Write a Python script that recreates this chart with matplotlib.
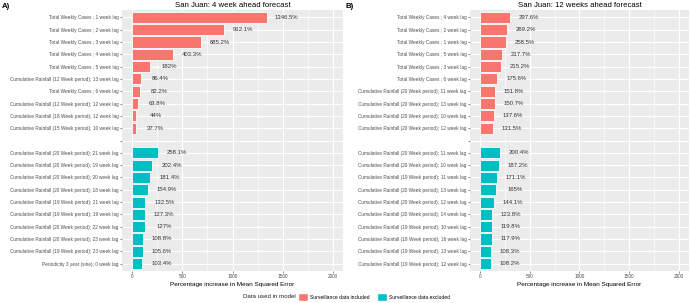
import numpy as np
import matplotlib
matplotlib.use('Agg')
import matplotlib.pyplot as plt
from matplotlib.patches import Patch

plt.rcParams['font.family'] = ['Liberation Sans', 'DejaVu Sans']

# ── Data ─────────────────────────────────────────────────────
a_inc_labels = [
    'Total Weekly Cases ; 1 week lag', 'Total Weekly Cases ; 2 week lag',
    'Total Weekly Cases ; 3 week lag', 'Total Weekly Cases ; 4 week lag',
    'Total Weekly Cases ; 5 week lag',
    'Cumulative Rainfall (12 Week period); 13 week lag',
    'Total Weekly Cases ; 6 week lag',
    'Cumulative Rainfall (12 Week period); 12 week lag',
    'Cumulative Rainfall (18 Week period); 12 week lag',
    'Cumulative Rainfall (15 Week period); 10 week lag',
]
a_inc_vals = [1346.5, 912.1, 685.2, 403.3, 182, 86.4, 82.2, 63.8, 44, 37.7]

a_exc_labels = [
    'Cumulative Rainfall (20 Week period); 21 week lag',
    'Cumulative Rainfall (20 Week period); 19 week lag',
    'Cumulative Rainfall (20 Week period); 20 week lag',
    'Cumulative Rainfall (20 Week period); 18 week lag',
    'Cumulative Rainfall (19 Week period); 21 week lag',
    'Cumulative Rainfall (19 Week period); 19 week lag',
    'Cumulative Rainfall (20 Week period); 22 week lag',
    'Cumulative Rainfall (20 Week period); 23 week lag',
    'Cumulative Rainfall (19 Week period); 23 week lag',
    'Periodicity 3 year (sine); 0 week lag',
]
a_exc_vals = [258.1, 202.4, 181.4, 154.9, 132.5, 127.3, 127, 108.8, 105.6, 103.4]

b_inc_labels = [
    'Total Weekly Cases ; 4 week lag', 'Total Weekly Cases ; 2 week lag',
    'Total Weekly Cases ; 1 week lag', 'Total Weekly Cases ; 5 week lag',
    'Total Weekly Cases ; 3 week lag', 'Total Weekly Cases ; 6 week lag',
    'Cumulative Rainfall (20 Week period); 11 week lag',
    'Cumulative Rainfall (20 Week period); 13 week lag',
    'Cumulative Rainfall (20 Week period); 10 week lag',
    'Cumulative Rainfall (20 Week period); 12 week lag',
]
b_inc_vals = [297.6, 269.2, 258.5, 217.7, 215.2, 175.6, 151.8, 150.7, 137.6, 131.5]

b_exc_labels = [
    'Cumulative Rainfall (20 Week period); 11 week lag',
    'Cumulative Rainfall (20 Week period); 10 week lag',
    'Cumulative Rainfall (19 Week period); 11 week lag',
    'Cumulative Rainfall (20 Week period); 13 week lag',
    'Cumulative Rainfall (20 Week period); 12 week lag',
    'Cumulative Rainfall (20 Week period); 14 week lag',
    'Cumulative Rainfall (19 Week period); 10 week lag',
    'Cumulative Rainfall (18 Week period); 16 week lag',
    'Cumulative Rainfall (19 Week period); 13 week lag',
    'Cumulative Rainfall (19 Week period); 12 week lag',
]
b_exc_vals = [200.4, 187.2, 171.1, 165, 144.1, 123.8, 119.8, 117.9, 108.3, 108.2]

titles = ['San Juan: 4 week ahead forecast', 'San Juan: 12 weeks ahead forecast']
x_ticks = [0, 500, 1000, 1500, 2000]

RED = '#F8766D'
CYAN = '#00BFC4'


def fmt(v):
    return ('%g' % v) + '%'


def panel(ax, inc_labels, inc_vals, exc_labels, exc_vals, title):
    labels = inc_labels + [''] + exc_labels
    vals = inc_vals + [np.nan] + exc_vals
    cols = [RED] * len(inc_vals) + [RED] + [CYAN] * len(exc_vals)
    y = np.arange(len(labels))
    ax.set_facecolor('#EBEBEB')
    ax.set_axisbelow(True)
    for xm in [250, 750, 1250, 1750]:
        ax.axvline(xm, color='white', lw=0.4, zorder=0)
    ax.grid(True, color='white', lw=0.8, zorder=0)
    ax.barh(y, np.nan_to_num(vals), height=0.9, color=cols,
            edgecolor='white', linewidth=0.6, zorder=2)
    for yi, v in zip(y, vals):
        if not np.isnan(v):
            ax.text(v + 190, yi, fmt(v), ha='center', va='center',
                    fontsize=4.3, color='#333333')
    ax.set_yticks(y)
    ax.set_yticklabels(labels)
    ax.set_ylim(len(labels) - 0.4, -0.6)
    ax.set_xlim(-100, 2100)
    ax.set_xticks(x_ticks)
    ax.tick_params(axis='both', labelsize=3.4, length=1.5, width=0.4,
                   color='#333333', labelcolor='#4D4D4D', pad=1)
    ax.set_xlabel('Percentage increase in Mean Squared Error', fontsize=4.6,
                  labelpad=1.5)
    ax.set_title(title, fontsize=5.6, pad=2)
    for s in ax.spines.values():
        s.set_visible(False)


fig = plt.figure(figsize=(6.91, 3.03), dpi=100)
ax1 = fig.add_axes([122 / 691, 1 - 271 / 303, 221 / 691, 261 / 303])
ax2 = fig.add_axes([470 / 691, 1 - 271 / 303, 219 / 691, 261 / 303])

panel(ax1, a_inc_labels, a_inc_vals, a_exc_labels, a_exc_vals, titles[0])
panel(ax2, b_inc_labels, b_inc_vals, b_exc_labels, b_exc_vals, titles[1])

fig.text(2 / 691, 1 - 7 / 303, 'A)', fontsize=5.6, fontweight='bold', va='center')
fig.text(345 / 691, 1 - 7 / 303, 'B)', fontsize=5.6, fontweight='bold', va='center')

# legend: title on the left, keys to the right (ggplot bottom legend)
fig.text(296 / 691, 1 - 297 / 303, 'Data used in model', fontsize=4.4,
         ha='right', va='center', color='#222222')
handles = [Patch(facecolor=RED, edgecolor='white'),
           Patch(facecolor=CYAN, edgecolor='white')]
fig.legend(handles, ['Surveillance data included', 'Surveillance data excluded'],
           loc='center left', bbox_to_anchor=(298 / 691, 1 - 297 / 303),
           ncol=2, frameon=False, fontsize=3.6,
           handlelength=2.0, handleheight=2.2, handletextpad=0.5,
           columnspacing=1.3, borderpad=0, borderaxespad=0)

fig.savefig('out.png', dpi=100)
